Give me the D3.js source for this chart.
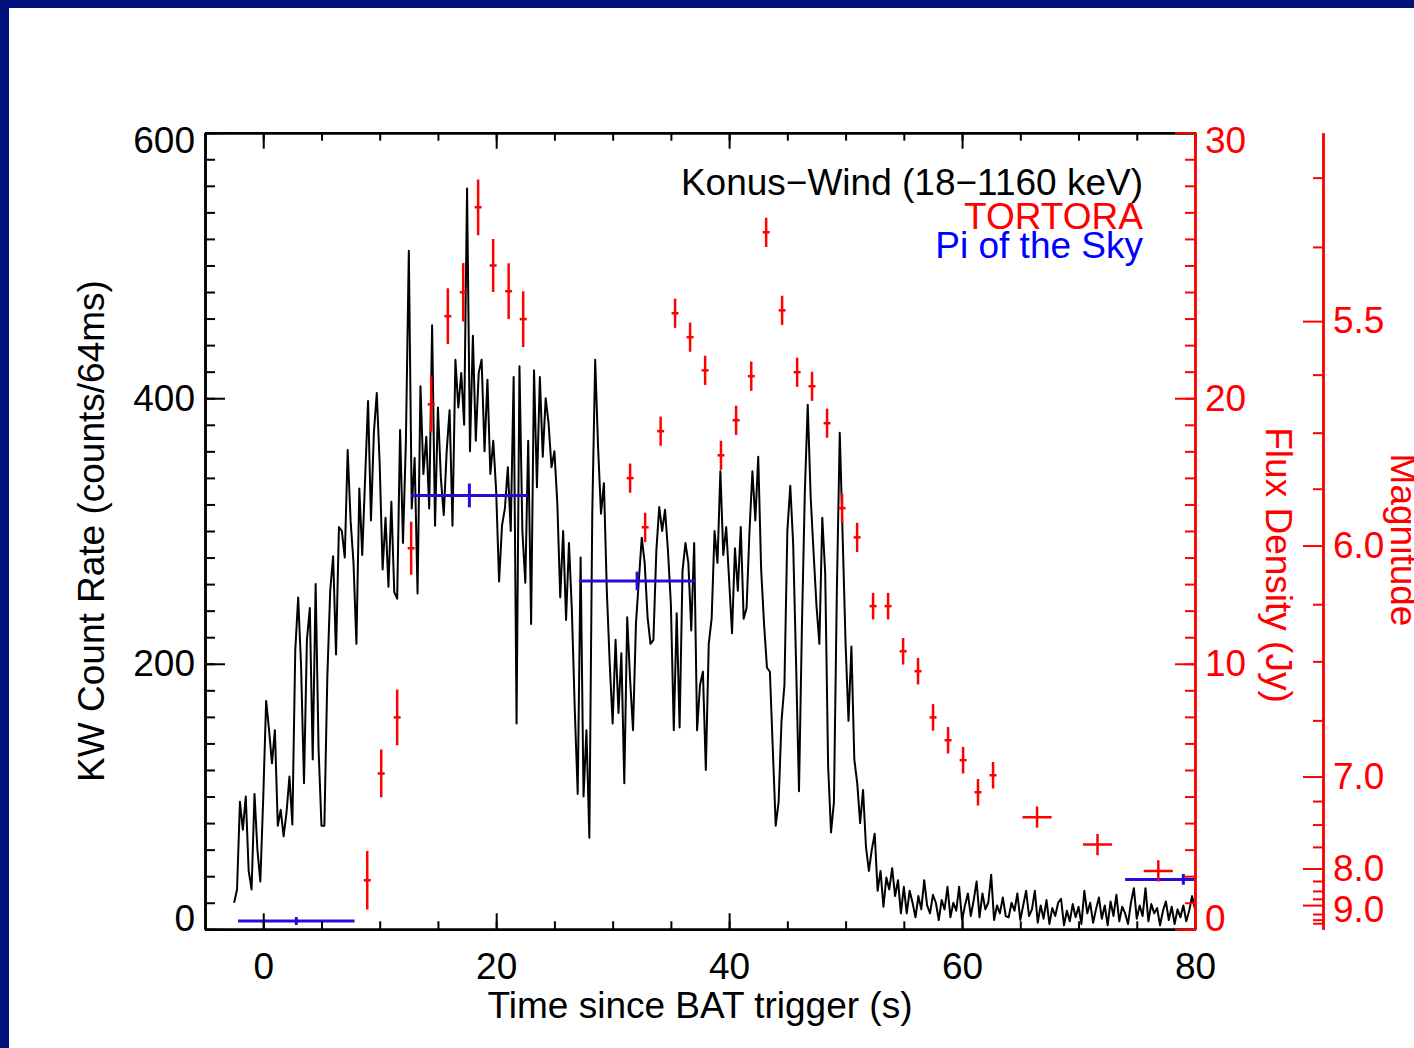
<!DOCTYPE html>
<html>
<head>
<meta charset="utf-8">
<script src="https://cdn.jsdelivr.net/npm/d3@7"></script>
<style>
  body { margin: 0; background: #fff; }
  svg text { font-family: "Liberation Sans", Arial, Helvetica, sans-serif; font-size: 37px; }
</style>
</head>
<body>
<svg id="chart" width="1414" height="1048"></svg>
<script>
// Konus-Wind light curve (counts per bin), bins of 0.25 s from t = -2.5 s
const kwStart = -2.5;
const kwBin = 0.25;
const kwRate = [
  20, 30, 96, 75,   100, 44, 30, 102,   60, 36, 99, 172,   150, 125, 150, 78,
  90, 70, 88, 115,  79, 210, 250, 198,  110, 218, 242, 128, 260, 136, 78, 78,
  189, 255, 281, 207, 303, 300, 280, 361, 308, 276, 215, 332, 282, 340, 398, 308,
  374, 404, 350, 271, 310, 258, 322, 254, 249, 376, 291, 368, 511, 317, 355, 253,
  409, 343, 371, 317, 455, 304, 393, 340, 312, 360, 391, 304, 429, 393, 419, 380,
  558, 360, 447, 368, 419, 429, 360, 414, 343, 368, 330, 262, 304, 317, 348, 300,
  416, 155, 424, 300, 261, 368, 230, 421, 333, 416, 356, 400, 381, 348, 360, 321,
  250, 300, 233, 291, 240, 165, 102, 280, 100, 150, 69, 313, 429, 363, 313, 336,
  255, 200, 155, 218, 163, 208, 110, 235, 188, 150, 230, 263, 295, 276, 235, 215,
  218, 285, 318, 300, 316, 285, 245, 150, 238, 152, 270, 291, 276, 225, 291, 150,
  184, 194, 120, 215, 234, 300, 276, 345, 282, 303, 263, 223, 287, 255, 303, 234,
  242, 300, 345, 308, 356, 271, 230, 197, 194, 136, 78, 96, 157, 184, 300, 334,
  290, 200, 104, 228, 329, 395, 326, 284, 244, 215, 310, 268, 123, 73, 96, 255,
  374, 295, 215, 157, 213, 128, 110, 80, 105, 62, 44, 60, 72, 29, 44, 17,
  39, 30, 46, 25, 37, 12, 32, 12, 29, 20, 9, 25, 15, 37, 18, 12,
  26, 20, 7, 22, 15, 32, 9, 20, 14, 32, 7, 18, 27, 10, 22, 36,
  9, 27, 15, 20, 41, 7, 18, 12, 24, 10, 9, 20, 14, 27, 7, 18,
  29, 10, 15, 29, 5, 18, 8, 22, 4, 16, 10, 20, 23, 3, 14, 6,
  19, 9, 17, 4, 29, 12, 20, 5, 15, 24, 8, 18, 3, 21, 10, 26,
  6, 17, 12, 4, 20, 31, 8, 18, 10, 31, 6, 19, 12, 16, 3, 14,
  21, 7, 17, 4, 15, 9, 18, 6, 14, 25, 15
];

// TORTORA flux density (Jy)
const tortoraTime = [8.93, 10.13, 11.5, 12.7, 14.42, 15.85, 17.17, 18.45, 19.74, 21.07, 22.32,
  31.5, 32.79, 34.12, 35.36, 36.65, 37.94, 39.3, 40.6, 41.9, 43.18, 44.55, 45.84, 47.12, 48.41,
  49.7, 50.99, 52.36, 53.65, 54.94, 56.22, 57.51, 58.8, 60.09, 61.37, 62.66, 66.44, 71.63, 76.85];
const tortoraFlux = [1.85, 5.87, 7.98, 14.35, 19.77, 23.09, 23.99, 27.19, 25.0, 24.03, 22.98,
  16.99, 15.14, 18.76, 23.2, 22.3, 21.05, 17.85, 19.17, 20.83, 26.25, 23.31, 20.98, 20.45, 19.06,
  15.86, 14.76, 12.17, 12.17, 10.47, 9.72, 7.98, 7.12, 6.37, 5.16, 5.8, 4.22, 3.19, 2.2];
const tortoraFluxErr = [1.1, 0.9, 1.05, 1.0, 1.05, 1.05, 1.1, 1.05, 1.0, 1.05, 1.05,
  0.55, 0.55, 0.55, 0.55, 0.55, 0.55, 0.55, 0.55, 0.55, 0.55, 0.55, 0.55, 0.55, 0.55,
  0.55, 0.55, 0.5, 0.5, 0.5, 0.5, 0.5, 0.5, 0.5, 0.5, 0.5, 0.4, 0.4, 0.4];
const tortoraTimeErr = [0.3, 0.3, 0.3, 0.3, 0.3, 0.3, 0.3, 0.3, 0.3, 0.3, 0.3,
  0.3, 0.3, 0.3, 0.3, 0.3, 0.3, 0.3, 0.3, 0.3, 0.3, 0.3, 0.3, 0.3, 0.3,
  0.3, 0.3, 0.3, 0.3, 0.3, 0.3, 0.3, 0.3, 0.3, 0.3, 0.3, 1.25, 1.25, 1.25];

// Pi of the Sky (Jy), 10 s exposures
const pisTime = [2.84, 17.7, 32.1, 79.0];
const pisTimeErr = [5, 5, 5, 5];
const pisFlux = [0.31, 16.34, 13.12, 1.88];
const pisFluxErr = [0.15, 0.45, 0.35, 0.2];

// axes
const xMajor = [0, 20, 40, 60, 80];
const countMajor = [0, 200, 400, 600];
const fluxMajor = [0, 10, 20, 30];
const magMajor = [5.5, 6.0, 7.0, 8.0, 9.0];
const magMinor = [5.27, 5.375, 5.60, 5.72, 5.85, 6.18, 6.39, 6.66, 7.19, 7.41, 7.67,
  8.25, 8.5, 8.75, 9.5, 10.0, 10.5];
const magZeroJy = 3630;

const legendLabels = ['Konus\u2212Wind (18\u22121160 keV)', 'TORTORA', 'Pi of the Sky'];
const legendColors = ['#000', '#ff0000', '#0000ff'];

const RED = '#ff0000';
const BLUE = '#2a0ad8';

const W = 1414, H = 1048;
const margin = { top: 132.7, right: 219, bottom: 118.7, left: 205 };
const svg = d3.select('#chart');

// navy frame at top / left
svg.append('rect').attr('width', W).attr('height', H).attr('fill', '#00107a');
svg.append('rect').attr('x', 9).attr('y', 8).attr('width', W).attr('height', H).attr('fill', '#fff');

const x = d3.scaleLinear().domain([-5, 80]).range([margin.left, W - margin.right]);
const y = d3.scaleLinear().domain([0, 600]).range([H - margin.bottom, margin.top]);
const yFlux = d3.scaleLinear().domain([0, 30]).range([H - margin.bottom, margin.top]);
const magToFlux = m => magZeroJy * Math.pow(10, -0.4 * m);

svg.append('clipPath').attr('id', 'plotclip')
  .append('rect')
  .attr('x', x.range()[0]).attr('y', y.range()[1])
  .attr('width', x.range()[1] - x.range()[0])
  .attr('height', y.range()[0] - y.range()[1]);

const plot = svg.append('g').attr('clip-path', 'url(#plotclip)');

// KW curve
const kw = kwRate.map((v, i) => ({ t: kwStart + i * kwBin, v }));
plot.append('path')
  .datum(kw)
  .attr('fill', 'none')
  .attr('stroke', '#000')
  .attr('stroke-width', 2)
  .attr('stroke-linejoin', 'round')
  .attr('d', d3.line().x(d => x(d.t)).y(d => y(d.v)));

// Pi of the Sky
const pis = pisTime.map((t, i) => ({ t, dt: pisTimeErr[i], f: pisFlux[i], df: pisFluxErr[i] }));
const pisG = plot.append('g').attr('stroke', BLUE).attr('stroke-width', 3);
pisG.selectAll('.h').data(pis).join('line')
  .attr('x1', d => x(d.t - d.dt)).attr('x2', d => x(d.t + d.dt))
  .attr('y1', d => yFlux(d.f)).attr('y2', d => yFlux(d.f));
pisG.selectAll('.v').data(pis).join('line')
  .attr('x1', d => x(d.t)).attr('x2', d => x(d.t))
  .attr('y1', d => yFlux(d.f - d.df)).attr('y2', d => yFlux(d.f + d.df));

// TORTORA
const tor = tortoraTime.map((t, i) => ({ t, dt: tortoraTimeErr[i], f: tortoraFlux[i], df: tortoraFluxErr[i] }));
const torG = plot.append('g').attr('stroke', RED).attr('stroke-width', 2.5);
torG.selectAll('.v').data(tor).join('line')
  .attr('x1', d => x(d.t)).attr('x2', d => x(d.t))
  .attr('y1', d => yFlux(d.f - d.df)).attr('y2', d => yFlux(d.f + d.df));
torG.selectAll('.h').data(tor).join('line')
  .attr('x1', d => x(d.t - d.dt)).attr('x2', d => x(d.t + d.dt))
  .attr('y1', d => yFlux(d.f)).attr('y2', d => yFlux(d.f));

// axes helpers
function styleAxis(g, color, width) {
  g.select('.domain').attr('stroke', color).attr('stroke-width', width);
  g.selectAll('.tick line').attr('stroke', color).attr('stroke-width', 2);
  g.selectAll('.tick text').attr('fill', color).style('font-size', '37px');
}
const bottomY = y.range()[0], topY = y.range()[1];

// bottom / top (black)
svg.append('g').attr('transform', `translate(0,${bottomY})`)
  .call(d3.axisBottom(x).tickValues(d3.range(0, 81, 5)).tickSize(-8).tickSizeOuter(0).tickFormat(''))
  .call(g => styleAxis(g, '#000', 2.5));
svg.append('g').attr('transform', `translate(0,${bottomY})`)
  .call(d3.axisBottom(x).tickValues(xMajor).tickSize(-16).tickSizeOuter(0).tickPadding(23))
  .call(g => styleAxis(g, '#000', 2.5));
svg.append('g').attr('transform', `translate(0,${topY})`)
  .call(d3.axisTop(x).tickValues(d3.range(0, 81, 5)).tickSize(-8).tickSizeOuter(0).tickFormat(''))
  .call(g => styleAxis(g, '#000', 2.5));
svg.append('g').attr('transform', `translate(0,${topY})`)
  .call(d3.axisTop(x).tickValues(xMajor).tickSize(-16).tickSizeOuter(0).tickFormat(''))
  .call(g => styleAxis(g, '#000', 2.5));

// left (black)
svg.append('g').attr('transform', `translate(${x.range()[0]},0)`)
  .call(d3.axisLeft(y).tickValues(d3.range(0, 601, 20)).tickSize(-10).tickSizeOuter(0).tickFormat(''))
  .call(g => styleAxis(g, '#000', 2.5));
svg.append('g').attr('transform', `translate(${x.range()[0]},0)`)
  .call(d3.axisLeft(y).tickValues(countMajor).tickSize(-20).tickSizeOuter(0).tickPadding(10))
  .call(g => styleAxis(g, '#000', 2.5))
  .call(g => g.selectAll('.tick text').attr('dy', d => d === 600 ? '0.54em' : d === 0 ? '0.02em' : '0.32em'));

// right flux axis (red)
svg.append('g').attr('transform', `translate(${x.range()[1]},0)`)
  .call(d3.axisRight(yFlux).tickValues(d3.range(0, 31, 1)).tickSize(-10).tickSizeOuter(0).tickFormat(''))
  .call(g => styleAxis(g, RED, 2.5));
svg.append('g').attr('transform', `translate(${x.range()[1]},0)`)
  .call(d3.axisRight(yFlux).tickValues(fluxMajor).tickSize(-20).tickSizeOuter(0).tickPadding(10))
  .call(g => styleAxis(g, RED, 2.5))
  .call(g => g.selectAll('.tick text').attr('dy', d => d === 30 ? '0.54em' : d === 0 ? '0.02em' : '0.32em'));

// magnitude axis (red)
const magX = 1323;
svg.append('g').attr('transform', `translate(${magX},0)`)
  .call(d3.axisRight(yFlux).tickValues(magMinor.map(magToFlux)).tickSize(-10).tickSizeOuter(0).tickFormat(''))
  .call(g => styleAxis(g, RED, 2.5));
svg.append('g').attr('transform', `translate(${magX},0)`)
  .call(d3.axisRight(yFlux).tickValues(magMajor.map(magToFlux)).tickSize(-20).tickSizeOuter(0).tickPadding(10)
    .tickFormat((d, i) => magMajor[i].toFixed(1)))
  .call(g => styleAxis(g, RED, 2.5))
  .call(g => g.selectAll('.tick text').attr('dy', (d, i) => magMajor[i] === 9.0 ? '0.45em' : '0.32em'));

// axis titles
svg.append('text')
  .attr('x', d3.mean(x.range())).attr('y', 1018)
  .attr('text-anchor', 'middle')
  .text('Time since BAT trigger (s)');
svg.append('text')
  .attr('transform', `translate(104,${d3.mean(y.range())}) rotate(-90)`)
  .attr('text-anchor', 'middle')
  .text('KW Count Rate (counts/64ms)');
svg.append('text')
  .attr('transform', `translate(1266,565) rotate(90)`)
  .attr('text-anchor', 'middle')
  .attr('fill', RED)
  .text('Flux Density (Jy)');
svg.append('text')
  .attr('transform', `translate(1391,540) rotate(90)`)
  .attr('text-anchor', 'middle')
  .attr('fill', RED)
  .text('Magnitude');

// legend
const legendY = [195, 229, 258];
svg.append('g').selectAll('text').data(legendLabels).join('text')
  .attr('x', 1143)
  .attr('y', (d, i) => legendY[i])
  .attr('text-anchor', 'end')
  .attr('fill', (d, i) => legendColors[i])
  .text(d => d);
</script>
</body>
</html>
